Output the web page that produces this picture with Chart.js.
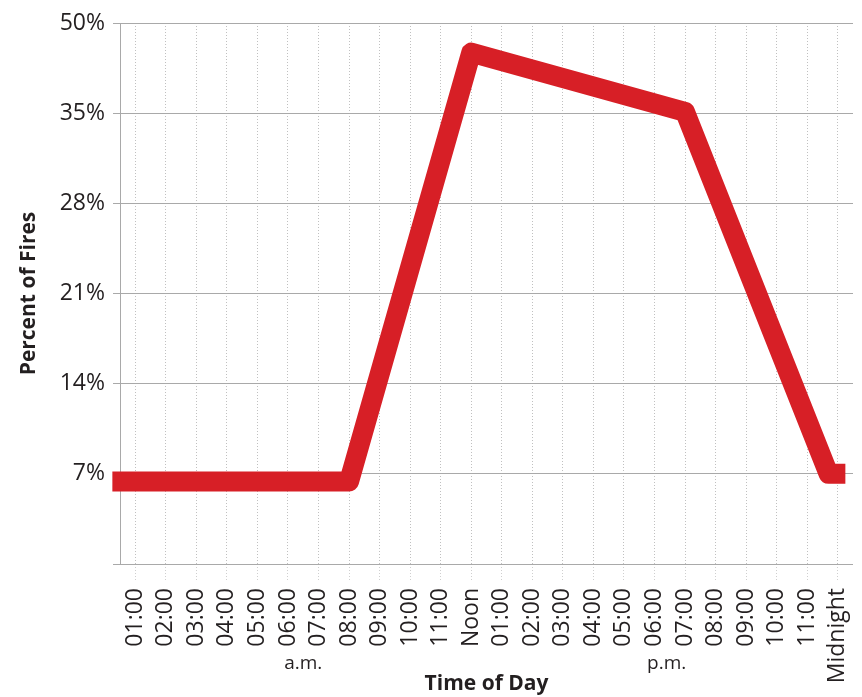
<!DOCTYPE html>
<html>
<head>
<meta charset="utf-8">
<script src="https://cdn.jsdelivr.net/npm/chart.js@4/dist/chart.umd.min.js"></script>
<style>
  html, body { margin: 0; padding: 0; background: #fff; }
  #wrap { width: 862px; height: 697px; position: relative; }
</style>
</head>
<body>
<div id="wrap"><canvas id="fireChart"></canvas></div>
<script>
// hour positions on the axis (1 = 01:00 a.m., 24 = Midnight)
const tickHours = [1, 2, 3, 4, 5, 6, 7, 8, 9, 10, 11, 12, 13, 14, 15, 16, 17, 18, 19, 20, 21, 22, 23, 24];
const tickLabels = ['01:00', '02:00', '03:00', '04:00', '05:00', '06:00', '07:00', '08:00', '09:00', '10:00', '11:00', 'Noon',
                    '01:00', '02:00', '03:00', '04:00', '05:00', '06:00', '07:00', '08:00', '09:00', '10:00', '11:00', 'Midnight'];

// series
const lineHours = [0.25, 8, 12, 19, 23.7, 24.25];
const percentFires = [6.4, 6.4, 39.7, 35.1, 7, 7];

// y axis
const yTicks = [0, 7, 14, 21, 28, 35, 42];
const yTickLabels = ['', '7%', '14%', '21%', '28%', '35%', '50%'];

// period labels under the hours
const periodLabels = ['a.m.', 'p.m.'];
const periodCenters = [6.5, 18.4];

const textColor = '#231f20';
const gridColor = '#a9a9a9';
const fontFamily = "'Open Sans', Lato, sans-serif";

const periodPlugin = {
    id: 'periodLabels',
    afterDraw(chart) {
        const ctx = chart.ctx;
        const xScale = chart.scales.x;
        ctx.save();
        ctx.font = `19px ${fontFamily}`;
        ctx.fillStyle = textColor;
        ctx.textAlign = 'center';
        ctx.textBaseline = 'middle';
        periodLabels.forEach((lbl, i) => {
            ctx.fillText(lbl, xScale.getPixelForValue(periodCenters[i]), 664);
        });
        ctx.restore();
    }
};

const ctx = document.getElementById('fireChart').getContext('2d');
new Chart(ctx, {
    type: 'line',
    data: {
        datasets: [{
            label: 'Percent of Fires',
            data: lineHours.map((h, i) => ({ x: h, y: percentFires[i] })),
            borderColor: '#d71f26',
            borderWidth: 20,
            borderJoinStyle: 'round',
            borderCapStyle: 'butt',
            pointRadius: 0,
            tension: 0,
            fill: false,
            clip: false
        }]
    },
    options: {
        responsive: true,
        maintainAspectRatio: false,
        animation: false,
        layout: { padding: { top: 23, right: 9, left: 0, bottom: 0 } },
        plugins: {
            legend: { display: false },
            tooltip: { enabled: false }
        },
        scales: {
            x: {
                type: 'linear',
                min: 0.5,
                max: 24.5,
                afterBuildTicks: scale => { scale.ticks = tickHours.map(v => ({ value: v })); },
                afterFit: scale => {
                    scale.height = 133;
                    scale.paddingLeft = 0;
                    scale.paddingRight = 0;
                },
                ticks: {
                    autoSkip: false,
                    minRotation: 90,
                    maxRotation: 90,
                    padding: 6,
                    color: textColor,
                    font: { family: fontFamily, size: 23 },
                    callback: (value, index) => tickLabels[index]
                },
                grid: {
                    color: 'rgba(150,150,150,0.6)',
                    lineWidth: 1,
                    tickLength: 18,
                    tickBorderDash: [1, 2],
                    tickColor: 'rgba(160,160,160,0.5)'
                },
                border: { display: true, color: gridColor, dash: [1, 2], width: 0 },
                title: {
                    display: true,
                    text: 'Time of Day',
                    color: textColor,
                    font: { family: fontFamily, size: 21, weight: 'bold' },
                    padding: { top: 0, bottom: 0 }
                }
            },
            y: {
                min: 0,
                max: 42,
                afterBuildTicks: scale => { scale.ticks = yTicks.map(v => ({ value: v })); },
                afterFit: scale => { scale.width = 120; },
                ticks: {
                    padding: 8,
                    color: textColor,
                    font: { family: fontFamily, size: 23 },
                    callback: (value, index) => yTickLabels[index]
                },
                grid: {
                    color: gridColor,
                    lineWidth: 1,
                    tickLength: 7
                },
                border: { display: true, color: gridColor, width: 1 },
                title: {
                    display: true,
                    text: 'Percent of Fires',
                    color: textColor,
                    font: { family: fontFamily, size: 21, weight: 'bold' },
                    padding: { top: 16, bottom: 0 }
                }
            }
        }
    },
    plugins: [periodPlugin]
});
</script>
</body>
</html>
